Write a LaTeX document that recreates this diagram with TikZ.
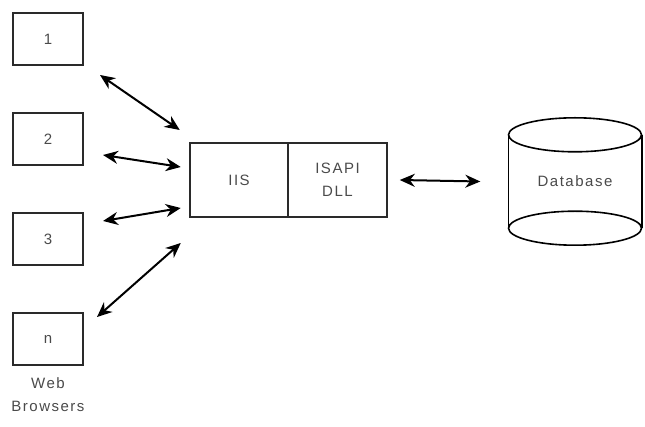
\documentclass[tikz,border=0pt]{standalone}
\usepackage{fontspec}
\setmainfont{Liberation Sans}
\newfontfamily\labelfont[LetterSpace=10]{Liberation Sans}
\usetikzlibrary{arrows.meta, positioning, calc}
\definecolor{framegray}{HTML}{2A2A2A}
\definecolor{textgray}{HTML}{4A4A4A}

\begin{document}
\begin{tikzpicture}[x=1pt, y=-1pt,
  font={\labelfont\fontsize{15}{23}\selectfont}, text=textgray,
  box/.style={draw=framegray, line width=2.4pt, inner sep=0pt, outer sep=0pt, align=center},
  browser/.style={box, minimum width=70pt, minimum height=52pt},
  server/.style={box, minimum width=98.5pt, minimum height=74pt},
  link/.style={{Stealth[length=15pt, width=13pt]}-{Stealth[length=15pt, width=13pt]}, line width=2pt, black},
  dbline/.style={draw=black, line width=1.6pt}]
  \useasboundingbox (0,0) rectangle (645,427);

  % Web browsers
  \foreach \lbl/\y [count=\i] in {1/39, 2/139, 3/239, n/339} {
    \node[browser] (b\i) at (48,\y) {\lbl};
  }
  \node[align=center, inner sep=0pt, anchor=north] (webtxt) at ([yshift=-12pt]b4.south) {Web\\Browsers};

  % IIS + ISAPI DLL
  \node[server] (iis) at (239,180) {IIS};
  \node[server, right=0pt of iis] (isapi) {ISAPI\\DLL};

  % Database (cylinder)
  \node[minimum width=133pt, minimum height=93pt, inner sep=0pt] (db) at (575,181.5) {Database};
  \draw[dbline] (db.north west) -- (db.south west);
  \draw[dbline] (db.north east) -- (db.south east);
  \draw[dbline] (db.north) ellipse [x radius=66.5, y radius=17];
  \draw[dbline] (db.south) ellipse [x radius=66.5, y radius=17];

  % Connections
  \draw[link] ([shift={(17,10)}]b1.south east) -- ([shift={(-10,-13)}]iis.north west);
  \draw[link] ([shift={(20,16)}]b2.east) -- ([shift={(-9,-13)}]iis.west);
  \draw[link] ([shift={(20,-18)}]b3.east) -- ([shift={(-9,28)}]iis.west);
  \draw[link] ([shift={(14,4)}]b4.north east) -- ([shift={(-9,26)}]iis.south west);
  \draw[link] ([xshift=13pt]isapi.east) -- ([xshift=-28pt]db.west);
\end{tikzpicture}
\end{document}
